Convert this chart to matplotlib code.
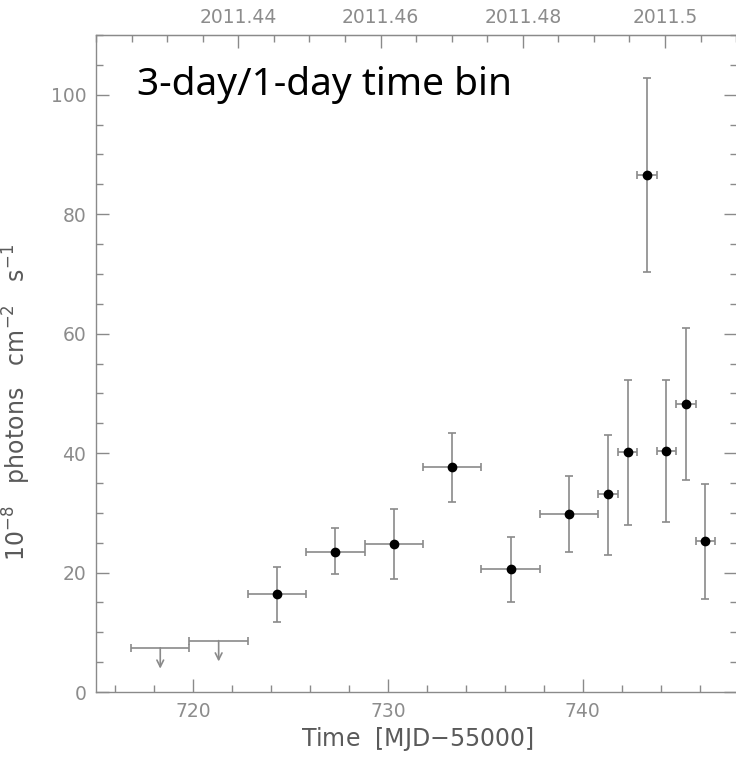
import matplotlib
matplotlib.use('Agg')
import matplotlib.pyplot as plt
from matplotlib.ticker import MultipleLocator, FixedLocator
import numpy as np

# Light curve, MJD-55000 bin centres and flux in 1e-8 ph cm^-2 s^-1
t_det = [724.3, 727.3, 730.3, 733.3, 736.3, 739.3,
         741.3, 742.3, 743.3, 744.3, 745.3, 746.3]
t_halfwidth = [1.5, 1.5, 1.5, 1.5, 1.5, 1.5,
               0.5, 0.5, 0.5, 0.5, 0.5, 0.5]
flux = [16.4, 23.5, 24.8, 37.6, 20.6, 29.8,
        33.1, 40.1, 86.6, 40.4, 48.2, 25.3]
flux_lo = [11.8, 19.7, 19.0, 31.8, 15.0, 23.4,
           22.9, 27.9, 70.3, 28.5, 35.5, 15.6]
flux_hi = [21.0, 27.5, 30.6, 43.4, 26.0, 36.1,
           43.0, 52.3, 102.8, 52.3, 60.9, 34.9]

# Upper limits for the first two 3-day bins
t_ul = [718.3, 721.3]
ul_halfwidth = [1.5, 1.5]
flux_ul = [7.4, 8.6]

# top axis ticks (decimal year)
year_ticks = [2011.44, 2011.46, 2011.48, 2011.50]
YEAR0_MJD = 561.6

def mjd_to_year(t):
    return 2011.0 + (np.asarray(t) - YEAR0_MJD) / 365.25

def year_to_mjd(y):
    return (np.asarray(y) - 2011.0) * 365.25 + YEAR0_MJD

GREY = '#8a8a8a'
TICKLABEL = '#8c8c8c'
AXLABEL = '#5a5a5a'

fig = plt.figure(figsize=(7.36, 7.58), dpi=100)
ax = fig.add_axes([96 / 736, 66 / 758, 641.5 / 736, 657 / 758])

flux = np.array(flux)
yerr = [flux - np.array(flux_lo), np.array(flux_hi) - flux]
ax.errorbar(t_det, flux, xerr=t_halfwidth, yerr=yerr, fmt='o',
            color='black', ms=6, ecolor=GREY, elinewidth=1.2,
            capsize=2.8, capthick=1.2, zorder=3)

ax.errorbar(t_ul, flux_ul, xerr=ul_halfwidth, fmt='none',
            ecolor=GREY, elinewidth=1.2, capsize=2.8, capthick=1.2)
for x, y in zip(t_ul, flux_ul):
    ax.annotate('', xy=(x, y), xytext=(0, -15), textcoords='offset points',
                arrowprops=dict(arrowstyle='<-', color=GREY, lw=1.2,
                                shrinkA=0, shrinkB=0,
                                mutation_scale=12))

ax.set_xlim(715, 747.95)
ax.set_ylim(0, 110)

ax.xaxis.set_major_locator(MultipleLocator(10))
ax.xaxis.set_minor_locator(MultipleLocator(2))
ax.yaxis.set_major_locator(MultipleLocator(20))
ax.yaxis.set_minor_locator(MultipleLocator(5))

for side in ['left', 'right', 'top', 'bottom']:
    ax.spines[side].set_color(GREY)
    ax.spines[side].set_linewidth(1.0)

ax.tick_params(which='both', direction='in', color=GREY, width=1.0,
               labelcolor=TICKLABEL, labelsize=13.5, top=False, right=True)
ax.tick_params(which='major', length=9.5, pad=7)
ax.tick_params(which='minor', length=4.8)

top = ax.secondary_xaxis('top', functions=(mjd_to_year, year_to_mjd))
top.xaxis.set_major_locator(FixedLocator(year_ticks))
top.xaxis.set_minor_locator(MultipleLocator(0.005))
top.xaxis.set_major_formatter(plt.FuncFormatter(lambda v, p: f'{v:g}'))
top.spines['top'].set_color(GREY)
top.tick_params(which='both', direction='in', color=GREY, width=1.0,
                labelcolor=TICKLABEL, labelsize=13.5)
top.tick_params(which='major', length=9.5, pad=6)
top.tick_params(which='minor', length=4.8)

ax.set_xlabel('Time  [MJD$-$55000]', fontsize=17, color=AXLABEL, labelpad=3)
ax.set_ylabel(r'10$^{-8}$   photons   cm$^{-2}$   s$^{-1}$', fontsize=17,
              color=AXLABEL)
ax.yaxis.set_label_coords(-0.098, 0.441)

ax.text(0.0635, 0.909, '3-day/1-day time bin', transform=ax.transAxes,
        fontsize=28, family='Noto Sans', color='black', va='baseline')

fig.savefig('out.png', dpi=100)
